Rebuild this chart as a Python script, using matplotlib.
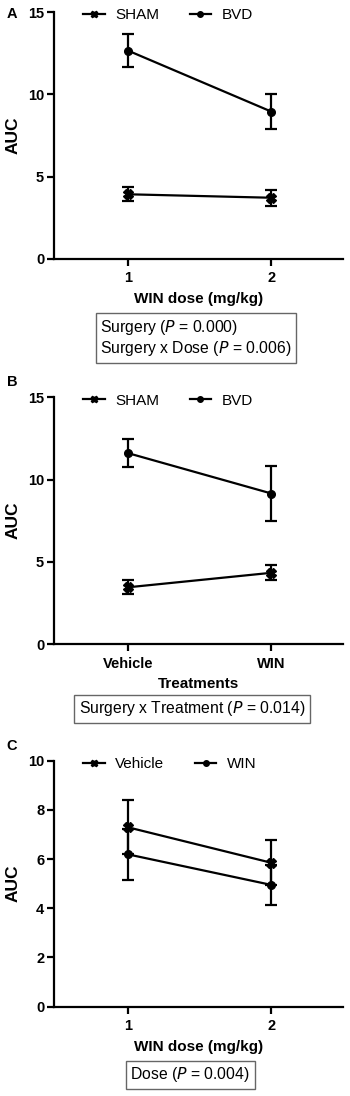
import matplotlib.pyplot as plt
from matplotlib.lines import Line2D
import numpy as np

plt.rcParams['font.family'] = ['Liberation Sans', 'DejaVu Sans']

# Panel A - AUC vs WIN dose
dosis = [1, 2]
sham_a = [3.93, 3.72]
sham_a_err = [0.42, 0.5]
bvd_a = [12.65, 8.95]
bvd_a_err = [1.0, 1.05]

# Panel B - AUC vs tratamiento
trat = ['Vehicle', 'WIN']
sham_b = [3.45, 4.33]
sham_b_err = [0.42, 0.46]
bvd_b = [11.6, 9.15]
bvd_b_err = [0.85, 1.68]

# Panel C - AUC vs WIN dose (Vehicle / WIN)
veh_c = [7.29, 5.85]
veh_c_err = [1.1, 0.92]
win_c = [6.19, 4.95]
win_c_err = [1.05, 0.8]

fig = plt.figure(figsize=(3.5, 10.96), dpi=100)

def panel(pos, y1, e1, y2, e2, nombres, ymax, yticks, xticklab, xlabel):
    ax = fig.add_axes(pos)
    x = [1, 2]
    ax.errorbar(x, y1, yerr=e1, color='k', lw=1.6, marker='X', ms=7,
                capsize=4, capthick=1.6, elinewidth=1.6)
    ax.errorbar(x, y2, yerr=e2, color='k', lw=1.6, marker='o', ms=5.5,
                capsize=4, capthick=1.6, elinewidth=1.6)
    ax.set_xlim(0.48, 2.5)
    ax.set_ylim(0, ymax)
    ax.set_yticks(yticks)
    ax.set_xticks(x)
    ax.set_xticklabels(xticklab, fontweight='bold', fontsize=10.5)
    for t in ax.get_yticklabels():
        t.set_fontweight('bold')
        t.set_fontsize(10.5)
    ax.spines['top'].set_visible(False)
    ax.spines['right'].set_visible(False)
    ax.spines['left'].set_linewidth(1.6)
    ax.spines['bottom'].set_linewidth(1.6)
    ax.tick_params(width=1.6, length=5, pad=2)
    ax.tick_params(axis='x', pad=4)
    ax.set_ylabel('AUC', fontweight='bold', fontsize=12.5, labelpad=5)
    ax.set_xlabel(xlabel, fontweight='bold', fontsize=11, labelpad=5)
    h = [Line2D([], [], color='k', lw=1.6, marker='X', ms=5),
         Line2D([], [], color='k', lw=1.6, marker='o', ms=4)]
    ax.legend(h, nombres, loc='upper left', bbox_to_anchor=(0.08, 1.04), ncol=2,
              frameon=False, fontsize=11, handlelength=1.4, columnspacing=2.0,
              handletextpad=0.7, borderaxespad=0)
    return ax

axA = panel([0.154, 0.7637, 0.826, 0.2253], sham_a, sham_a_err, bvd_a, bvd_a_err,
            ['SHAM', 'BVD'], 15, [0, 5, 10, 15], ['1', '2'], 'WIN dose (mg/kg)')
axB = panel([0.154, 0.4124, 0.826, 0.2251], sham_b, sham_b_err, bvd_b, bvd_b_err,
            ['SHAM', 'BVD'], 15, [0, 5, 10, 15], trat, 'Treatments')
axC = panel([0.154, 0.0815, 0.826, 0.2244], veh_c, veh_c_err, win_c, win_c_err,
            ['Vehicle', 'WIN'], 10, [0, 2, 4, 6, 8, 10], ['1', '2'], 'WIN dose (mg/kg)')

caja = dict(boxstyle='square,pad=0.3', fc='white', ec='#666666', lw=1)
fig.text(0.56, 1 - 338 / 1096, 'Surgery ($\\it{P}$ = 0.000)\nSurgery x Dose ($\\it{P}$ = 0.006)',
         ha='center', va='center', fontsize=11.3, bbox=caja, linespacing=1.15,
         multialignment='left')
fig.text(0.548, 1 - 709 / 1096, 'Surgery x Treatment ($\\it{P}$ = 0.014)',
         ha='center', va='center', fontsize=11.3, bbox=caja)
fig.text(0.543, 1 - 1075 / 1096, 'Dose ($\\it{P}$ = 0.004)',
         ha='center', va='center', fontsize=11.3, bbox=caja)

for letra, y in [('A', 14), ('B', 382), ('C', 746)]:
    fig.text(12 / 350, 1 - y / 1096, letra, fontweight='bold', fontsize=10.5,
             ha='center', va='center')

plt.savefig('out.png', dpi=100)
